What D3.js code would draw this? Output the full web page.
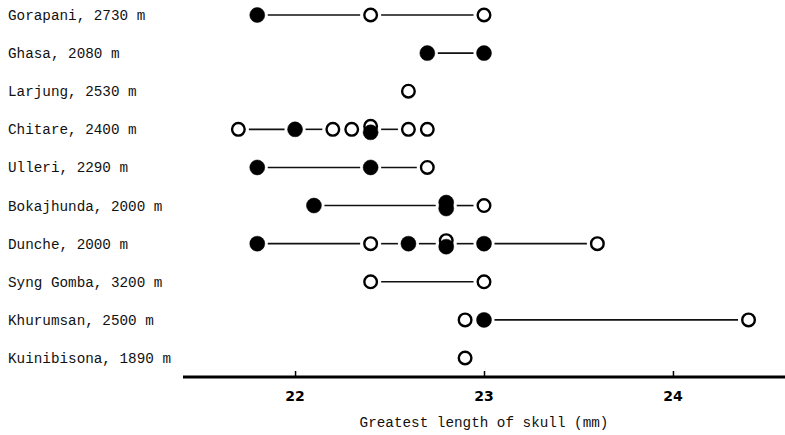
<!DOCTYPE html>
<html>
<head>
<meta charset="utf-8">
<script src="https://cdn.jsdelivr.net/npm/d3@7"></script>
<style>
  body { margin: 0; background: #fff; }
  svg { display: block; }
  .label { font-family: 'Liberation Mono', 'DejaVu Sans Mono', monospace; font-size: 14.3px; fill: #111; }
</style>
</head>
<body>
<svg id="chart" width="785" height="435"></svg>
<script>
// sites and elevation (m)
const sites = ['Gorapani', 'Ghasa', 'Larjung', 'Chitare', 'Ulleri', 'Bokajhunda',
  'Dunche', 'Syng Gomba', 'Khurumsan', 'Kuinibisona']
const elevations = [2730, 2080, 2530, 2400, 2290, 2000, 2000, 3200, 2500, 1890]

// greatest length of skull (mm), filled and open symbols per site
const filledValues = [
  [21.8],
  [22.7, 23.0],
  [],
  [22.0, 22.4],
  [21.8, 22.4],
  [22.1, 22.8, 22.8],
  [21.8, 22.6, 22.8, 23.0],
  [],
  [23.0],
  []
]
const openValues = [
  [22.4, 23.0],
  [],
  [22.6],
  [21.7, 22.2, 22.3, 22.4, 22.6, 22.7],
  [22.7],
  [23.0],
  [22.4, 22.8, 23.6],
  [22.4, 23.0],
  [22.9, 24.4],
  [22.9]
]
const tickValues = [22, 23, 24]
const axisTitle = 'Greatest length of skull (mm)'

const svg = d3.select('#chart')
const r = 7.5

// scales
const x = d3.scaleLinear().domain([21.407, 24.593]).range([183, 785])
const y = d3.scalePoint().domain(sites).range([15, 358])

// site labels
svg.selectAll('.label')
  .data(sites)
  .enter()
  .append('text')
  .attr('class', 'label')
  .attr('x', 8)
  .attr('y', d => y(d))
  .attr('dy', '0.35em')
  .text((d, i) => d + ', ' + elevations[i] + ' m')

// build points per row, stacking equal values vertically
sites.forEach(function (site, i) {
  let pts = openValues[i].map(v => ({ v: v, open: true }))
    .concat(filledValues[i].map(v => ({ v: v, open: false })))
  const groups = d3.group(pts, d => d.v)
  groups.forEach(function (g) {
    g.sort((a, b) => (b.open ? 1 : 0) - (a.open ? 1 : 0))
    g.forEach(function (p, k) {
      p.dy = g.length > 1 ? (k - (g.length - 1) / 2) * 6 : 0
    })
  })

  const row = svg.append('g').attr('transform', 'translate(0,' + y(site) + ')')

  // connecting segments between distinct positions (none when circles almost touch)
  const xs = Array.from(new Set(pts.map(d => d.v))).sort(d3.ascending)
  const segs = d3.pairs(xs).filter(d => x(d[1]) - x(d[0]) > 25)
  row.selectAll('.seg')
    .data(segs)
    .enter()
    .append('line')
    .attr('class', 'seg')
    .attr('x1', d => x(d[0]) + r + 3)
    .attr('x2', d => x(d[1]) - r - 3)
    .attr('y1', 0)
    .attr('y2', 0)
    .style('stroke', '#111')
    .style('stroke-width', 1.6)

  // open points first so filled ones sit on top
  pts.sort((a, b) => (b.open ? 1 : 0) - (a.open ? 1 : 0))
  row.selectAll('circle')
    .data(pts)
    .enter()
    .append('circle')
    .attr('cx', d => x(d.v))
    .attr('cy', d => d.dy)
    .attr('r', d => d.open ? r - 1.2 : r)
    .style('fill', d => d.open ? '#fff' : '#000')
    .style('stroke', '#000')
    .style('stroke-width', d => d.open ? 2.4 : 0.5)
})

// x axis
const xAxis = svg.append('g')
  .attr('transform', 'translate(0,377)')
  .call(d3.axisTop(x).tickValues(tickValues).tickSize(6).tickFormat(''))
xAxis.select('.domain').style('stroke-width', 3).attr('d', 'M183,0H785')
xAxis.selectAll('.tick line').style('stroke-width', 1.5)

svg.selectAll('.ticklabel')
  .data(tickValues)
  .enter()
  .append('text')
  .attr('class', 'ticklabel')
  .attr('x', d => x(d))
  .attr('y', 396)
  .attr('dy', '0.35em')
  .attr('text-anchor', 'middle')
  .style('font-family', "'DejaVu Sans', sans-serif")
  .style('font-size', '14px')
  .style('font-weight', 'bold')
  .text(d => d)

svg.append('text')
  .attr('class', 'label')
  .attr('x', x(23))
  .attr('y', 422)
  .attr('dy', '0.35em')
  .attr('text-anchor', 'middle')
  .text(axisTitle)
</script>
</body>
</html>
